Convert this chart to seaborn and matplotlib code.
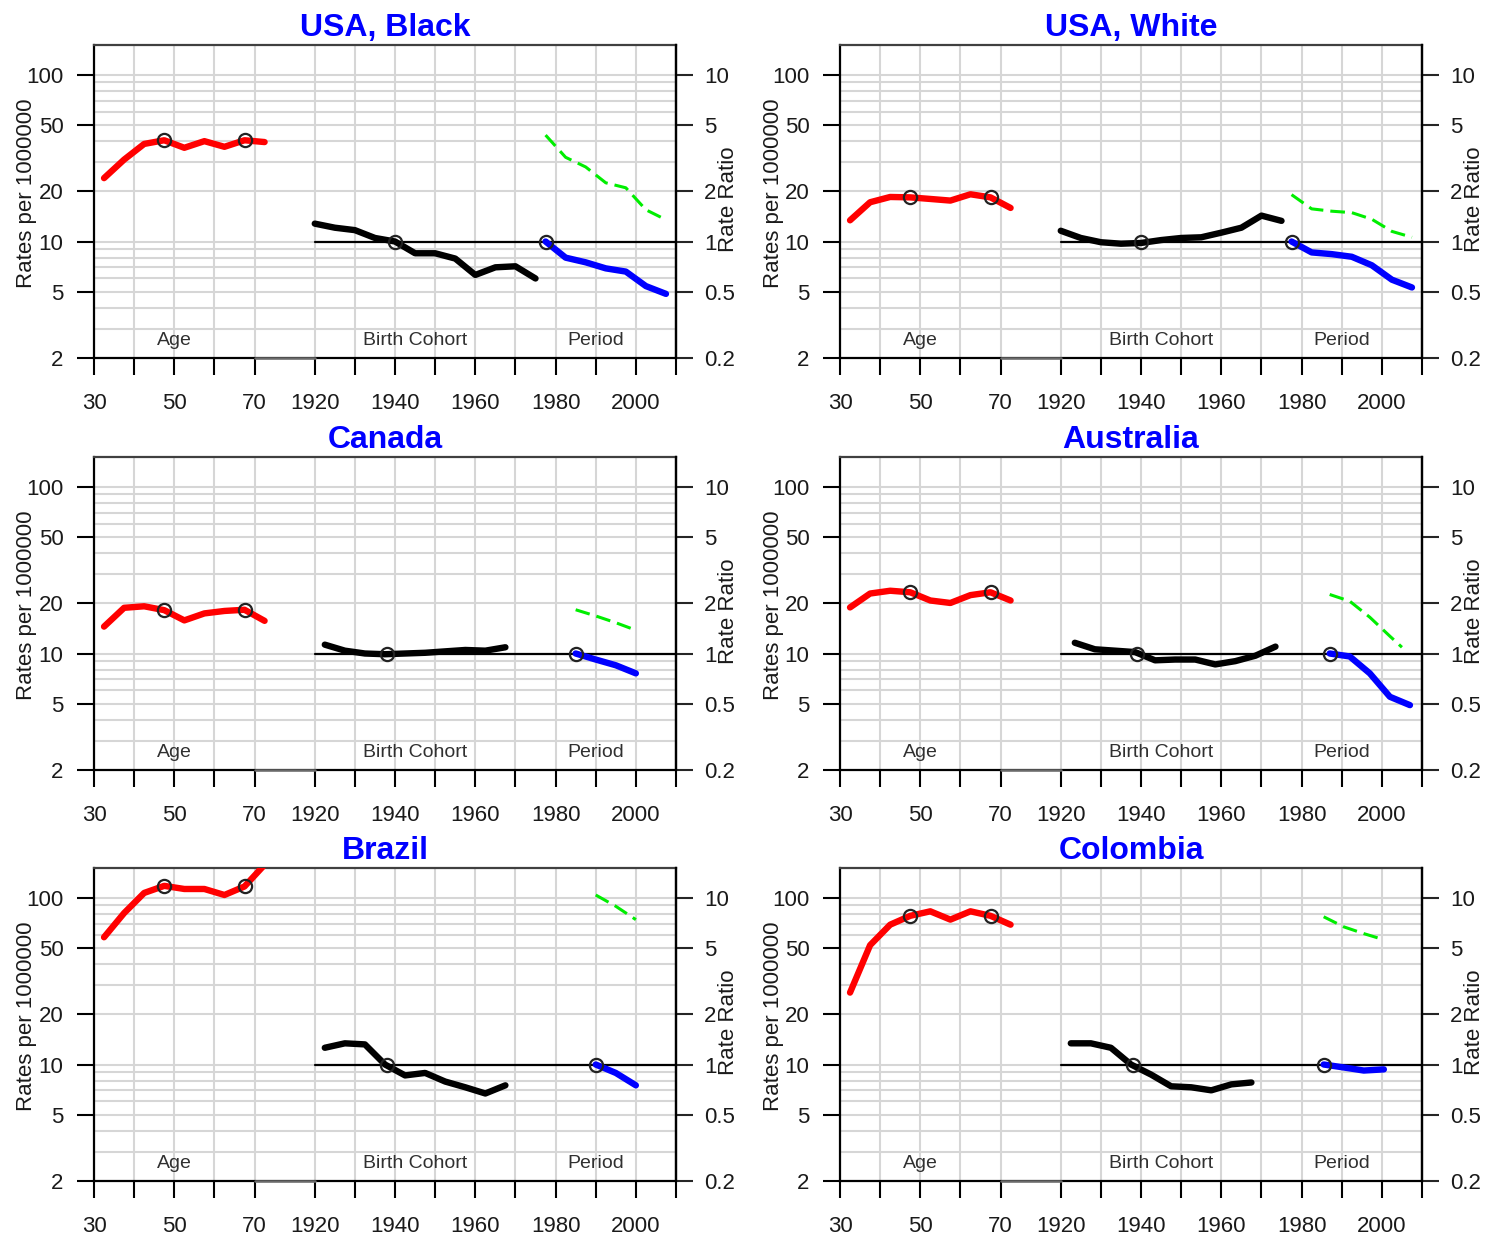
import numpy as np
import pandas as pd
import matplotlib
matplotlib.use('Agg')
import matplotlib.pyplot as plt
import seaborn as sns

sns.set_style('white')
plt.rcParams['font.family'] = ['Liberation Sans', 'DejaVu Sans']

# age is drawn on the calendar axis as age + 1835 (30 -> 1865, 70 -> 1905)
AGE_SHIFT = 1835

titles = ['USA, Black', 'USA, White', 'Canada', 'Australia', 'Brazil', 'Colombia']

age_x = [32.5, 37.5, 42.5, 47.5, 52.5, 57.5, 62.5, 67.5, 72.5]
age_ref = [47.5, 67.5]

# USA, Black
age_usab = [24, 31, 38.5, 40.5, 36.5, 40, 37, 40.5, 39.5]
coh_x_usab = [1920, 1925, 1930, 1935, 1940, 1945, 1950, 1955, 1960, 1965, 1970, 1975]
coh_y_usab = [12.8, 12.1, 11.7, 10.5, 10.0, 8.5, 8.5, 7.9, 6.3, 7.0, 7.1, 6.0]
per_x_usab = [1977.5, 1982.5, 1987.5, 1992.5, 1997.5, 2002.5, 2007.5]
per_y_usab = [10, 8.0, 7.5, 6.9, 6.6, 5.4, 4.85]
drift_x_usab = [1977.5, 1982.5, 1987.5, 1992.5, 1997.5, 2002.5, 2007.5]
drift_y_usab = [43.5, 32, 28, 22.5, 21, 15.5, 13.5]

# USA, White
age_usaw = [13.4, 17.2, 18.5, 18.4, 18.0, 17.6, 19.2, 18.4, 15.9]
coh_x_usaw = [1920, 1925, 1930, 1935, 1940, 1945, 1950, 1955, 1960, 1965, 1970, 1975]
coh_y_usaw = [11.6, 10.5, 9.9, 9.7, 9.8, 10.2, 10.5, 10.6, 11.3, 12.1, 14.3, 13.3]
per_x_usaw = [1977.5, 1982.5, 1987.5, 1992.5, 1997.5, 2002.5, 2007.5]
per_y_usaw = [10, 8.6, 8.4, 8.1, 7.2, 5.9, 5.3]
drift_x_usaw = [1977.5, 1982.5, 1987.5, 1992.5, 1997.5, 2002.5, 2007.5]
drift_y_usaw = [19.1, 15.7, 15.2, 14.9, 13.6, 11.5, 10.6]

# Canada
age_can = [14.5, 18.8, 19.2, 18.2, 15.8, 17.4, 18.0, 18.3, 15.7]
coh_x_can = [1922.5, 1927.5, 1932.5, 1937.5, 1942.5, 1947.5, 1952.5, 1957.5, 1962.5, 1967.5]
coh_y_can = [11.3, 10.4, 10.0, 9.9, 10.0, 10.1, 10.3, 10.5, 10.4, 10.9]
per_x_can = [1985, 1990, 1995, 2000]
per_y_can = [10, 9.2, 8.5, 7.6]
drift_x_can = [1985, 1990, 1995, 2000]
drift_y_can = [18.3, 16.8, 15.3, 13.8]

# Australia
age_aus = [18.9, 22.9, 23.8, 23.3, 20.8, 20.1, 22.4, 23.3, 20.8]
coh_x_aus = [1923.5, 1928.5, 1933.5, 1938.5, 1943.5, 1948.5, 1953.5, 1958.5, 1963.5, 1968.5, 1973.5]
coh_y_aus = [11.6, 10.6, 10.4, 10.2, 9.1, 9.2, 9.2, 8.6, 9.0, 9.7, 11.0]
per_x_aus = [1987, 1992, 1997, 2002, 2007]
per_y_aus = [10, 9.6, 7.6, 5.5, 4.9]
drift_x_aus = [1987, 1992, 1997, 2002, 2005]
drift_y_aus = [22.6, 20.6, 16.5, 12.7, 10.9]

# Brazil
age_bra = [58, 81, 107, 118, 113, 113, 104, 117, 158]
coh_x_bra = [1922.5, 1927.5, 1932.5, 1937.5, 1942.5, 1947.5, 1952.5, 1957.5, 1962.5, 1967.5]
coh_y_bra = [12.6, 13.4, 13.2, 10.0, 8.6, 8.9, 7.9, 7.3, 6.7, 7.5]
per_x_bra = [1990, 1995, 2000]
per_y_bra = [10, 8.9, 7.5]
drift_x_bra = [1990, 1995, 2000]
drift_y_bra = [104, 89, 74]

# Colombia
age_col = [27, 52, 69, 78, 83, 74, 83, 78, 69]
coh_x_col = [1922.5, 1927.5, 1932.5, 1937.5, 1942.5, 1947.5, 1952.5, 1957.5, 1962.5, 1967.5]
coh_y_col = [13.4, 13.4, 12.6, 10.0, 8.7, 7.4, 7.3, 7.0, 7.6, 7.8]
per_x_col = [1985.5, 1990.5, 1995.5, 2000.5]
per_y_col = [10, 9.6, 9.2, 9.35]
drift_x_col = [1985.5, 1990.5, 1995.5, 1999.5]
drift_y_col = [77, 67, 61, 57]

coh_ref = [1940, 1940, 1938, 1939, 1938, 1938]

panels = [
    (age_usab, coh_x_usab, coh_y_usab, per_x_usab, per_y_usab, drift_x_usab, drift_y_usab),
    (age_usaw, coh_x_usaw, coh_y_usaw, per_x_usaw, per_y_usaw, drift_x_usaw, drift_y_usaw),
    (age_can, coh_x_can, coh_y_can, per_x_can, per_y_can, drift_x_can, drift_y_can),
    (age_aus, coh_x_aus, coh_y_aus, per_x_aus, per_y_aus, drift_x_aus, drift_y_aus),
    (age_bra, coh_x_bra, coh_y_bra, per_x_bra, per_y_bra, drift_x_bra, drift_y_bra),
    (age_col, coh_x_col, coh_y_col, per_x_col, per_y_col, drift_x_col, drift_y_col),
]

age_ticks = [30, 40, 50, 60, 70]
age_labels = ['30', '', '50', '', '70']
coh_ticks = [1920, 1930, 1940, 1950, 1960, 1970, 1980, 1990, 2000, 2010]
coh_labels = ['1920', '', '1940', '', '1960', '', '1980', '', '2000', '']
rate_ticks = [2, 5, 10, 20, 50, 100]
rr_ticks = [0.2, 0.5, 1, 2, 5, 10]
grid_vals = [m * 10.0 ** k for k in range(0, 3) for m in range(1, 10)]

W, H = 1486, 1240
fig = plt.figure(figsize=(W / 100, H / 100), dpi=100)
col_left = [94, 840]
row_top = [45, 457, 868]
pw, ph = 582, 313
gcol = '#d6d6d6'
line_kw = dict(lw=4.6, solid_capstyle='round', solid_joinstyle='round', zorder=3, legend=False)

for i in range(6):
    r, c = divmod(i, 2)
    age_y, cx, cy, px, py, dx, dy = panels[i]
    x0, y0 = col_left[c], row_top[r]
    ax = fig.add_axes([x0 / W, 1 - (y0 + ph) / H, pw / W, ph / H])
    ax.set_yscale('log')
    ax.set_xlim(1865, 2010)
    ax.set_ylim(2, 151)

    for v in grid_vals:
        if 2 < v < 151:
            ax.axhline(v, color=gcol, lw=1.5, zorder=0)
    for t in [a + AGE_SHIFT for a in age_ticks] + coh_ticks:
        ax.axvline(t, color=gcol, lw=1.5, zorder=0)

    ax.plot([1920, 2010], [10, 10], color='black', lw=1.6, zorder=2)

    df_age = pd.DataFrame({'x': [a + AGE_SHIFT for a in age_x], 'y': age_y})
    sns.lineplot(data=df_age, x='x', y='y', ax=ax, color='#ff0000', **line_kw)
    df_coh = pd.DataFrame({'x': cx, 'y': cy})
    sns.lineplot(data=df_coh, x='x', y='y', ax=ax, color='black', **line_kw)
    df_per = pd.DataFrame({'x': px, 'y': py})
    sns.lineplot(data=df_per, x='x', y='y', ax=ax, color='#0000ff', **line_kw)
    df_drift = pd.DataFrame({'x': dx, 'y': dy})
    sns.lineplot(data=df_drift, x='x', y='y', ax=ax, color='#00ee00', lw=2.2,
                 linestyle=(0, (4.8, 2.3)), zorder=3, legend=False)

    ref_y = [age_y[age_x.index(a)] for a in age_ref]
    ax.plot([a + AGE_SHIFT for a in age_ref], ref_y, 'o', mfc='none', mec='#222222',
            mew=1.6, ms=9.5, zorder=4)
    ax.plot([coh_ref[i], px[0]], [10, py[0]], 'o', mfc='none', mec='#222222',
            mew=1.6, ms=9.5, zorder=4)

    ax.text(50 + AGE_SHIFT, 2.55, 'Age', ha='center', va='center', fontsize=14, color='#303030')
    ax.text(1945, 2.55, 'Birth Cohort', ha='center', va='center', fontsize=14, color='#303030')
    ax.text(1990, 2.55, 'Period', ha='center', va='center', fontsize=14, color='#303030')

    ax.set_xticks([a + AGE_SHIFT for a in age_ticks] + coh_ticks)
    ax.set_xticklabels(age_labels + coh_labels)
    ax.set_yticks(rate_ticks)
    ax.set_yticklabels([str(t) for t in rate_ticks])
    ax.yaxis.set_minor_locator(matplotlib.ticker.NullLocator())
    ax.tick_params(axis='both', direction='out', length=12, width=1.5, labelsize=16,
                   color='black', labelcolor='#1a1a1a')
    ax.tick_params(axis='x', pad=13, bottom=True)
    ax.tick_params(axis='y', pad=10, left=True)
    ax.set_xlabel('')
    ax.set_ylabel('')
    for s in ax.spines.values():
        s.set_color('black')
        s.set_linewidth(1.6)
    ax.spines['top'].set_color('#404040')
    ax.plot([1905, 1920], [2, 2], color='#6a6a6a', lw=1.8, clip_on=False, zorder=6)

    ax2 = ax.twinx()
    ax2.set_yscale('log')
    ax2.set_ylim(0.2, 15.1)
    ax2.set_yticks(rr_ticks)
    ax2.set_yticklabels(['0.2', '0.5', '1', '2', '5', '10'])
    ax2.yaxis.set_minor_locator(matplotlib.ticker.NullLocator())
    ax2.tick_params(axis='y', direction='out', length=12, width=1.5, labelsize=16,
                    pad=8, labelcolor='#1a1a1a')
    for s in ax2.spines.values():
        s.set_visible(False)
    ax2.spines['right'].set_visible(True)
    ax2.spines['right'].set_color('black')
    ax2.spines['right'].set_linewidth(1.6)

    fig.text((x0 + pw / 2) / W, 1 - (y0 - 17) / H, titles[i], ha='center', va='center',
             fontsize=23, fontweight='bold', color='#0000ff')
    fig.text((x0 - 67) / W, 1 - (y0 + 148) / H, 'Rates per 1000000', rotation=90,
             ha='center', va='center', fontsize=16, color='#1a1a1a')
    fig.text((x0 + pw + 52) / W, 1 - (y0 + 154) / H, 'Rate Ratio', rotation=90,
             ha='center', va='center', fontsize=16, color='#1a1a1a')

fig.savefig('out.png', dpi=100)
